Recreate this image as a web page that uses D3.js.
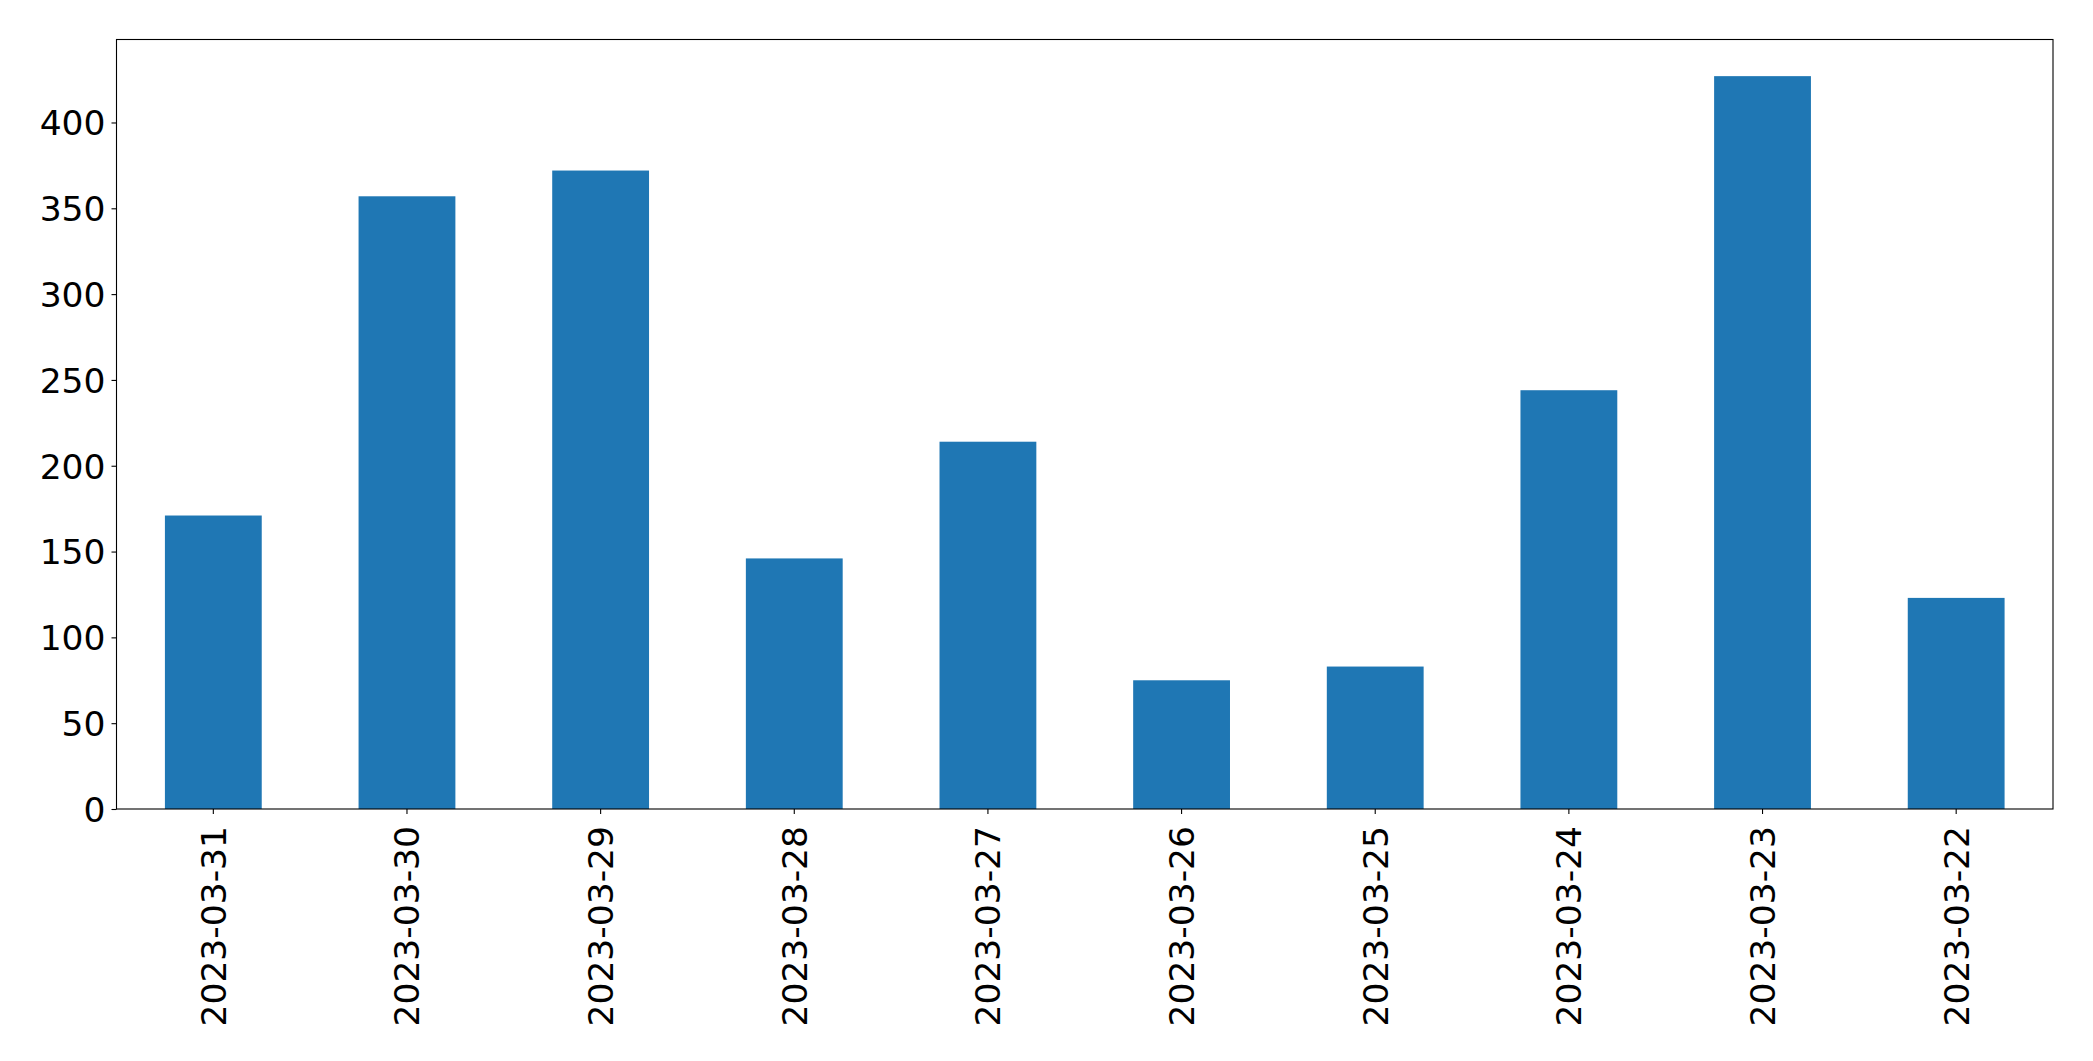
<!DOCTYPE html>
<html>
<head>
<meta charset="utf-8">
<script src="https://cdn.jsdelivr.net/npm/d3@7"></script>
<style>
    html, body { margin: 0; padding: 0; background: #fff; overflow: hidden; }
    svg { display: block; }
    svg text { font-family: "DejaVu Sans", sans-serif; }
</style>
</head>
<body>
<div id="chart"></div>
<script>
const dates = ['2023-03-31', '2023-03-30', '2023-03-29', '2023-03-28', '2023-03-27',
               '2023-03-26', '2023-03-25', '2023-03-24', '2023-03-23', '2023-03-22'];
const counts = [171, 357, 372, 146, 214, 75, 83, 244, 427, 123];
const yTicks = [0, 50, 100, 150, 200, 250, 300, 350, 400];

const width = 2093;
const height = 1061;
const margin = { top: 39.5, right: 40, bottom: 252, left: 116.5 };
const innerWidth = width - margin.left - margin.right;
const innerHeight = height - margin.top - margin.bottom;
const fontSize = 34.5;

const svg = d3.select('#chart')
    .append('svg')
        .attr('width', width)
        .attr('height', height);

const g = svg.append('g')
    .attr('transform', `translate(${margin.left},${margin.top})`);

const x = d3.scaleBand()
    .domain(dates)
    .range([0, innerWidth])
    .paddingInner(0.5)
    .paddingOuter(0.25);

const y = d3.scaleLinear()
    .domain([0, d3.max(counts) * 1.05])
    .range([innerHeight, 0]);

g.selectAll('.bar')
    .data(dates)
    .join('rect')
        .attr('class', 'bar')
        .attr('x', d => x(d))
        .attr('y', (d, i) => y(counts[i]))
        .attr('width', x.bandwidth())
        .attr('height', (d, i) => innerHeight - y(counts[i]))
        .style('fill', '#1f77b4');

// frame
g.append('rect')
    .attr('width', innerWidth)
    .attr('height', innerHeight)
    .style('fill', 'none')
    .style('stroke', '#000')
    .style('stroke-width', 1.1);

const yAxis = g.append('g')
    .call(d3.axisLeft(y).tickValues(yTicks).tickSize(5).tickPadding(6));
yAxis.select('.domain').remove();
yAxis.selectAll('text')
    .style('font-size', `${fontSize}px`)
    .attr('fill', '#000')
    .attr('dy', '0.36em');
yAxis.selectAll('line').attr('stroke', '#000').attr('stroke-width', 1.1);

const xAxis = g.append('g')
    .attr('transform', `translate(0,${innerHeight})`)
    .call(d3.axisBottom(x).tickSize(5).tickPadding(0));
xAxis.select('.domain').remove();
xAxis.selectAll('line').attr('stroke', '#000').attr('stroke-width', 1.1);
xAxis.selectAll('text')
    .style('font-size', `${fontSize}px`)
    .attr('fill', '#000')
    .attr('text-anchor', 'end')
    .attr('transform', 'translate(0,17) rotate(-90)')
    .attr('x', 0)
    .attr('y', 0)
    .attr('dy', '0.36em');
</script>
</body>
</html>
